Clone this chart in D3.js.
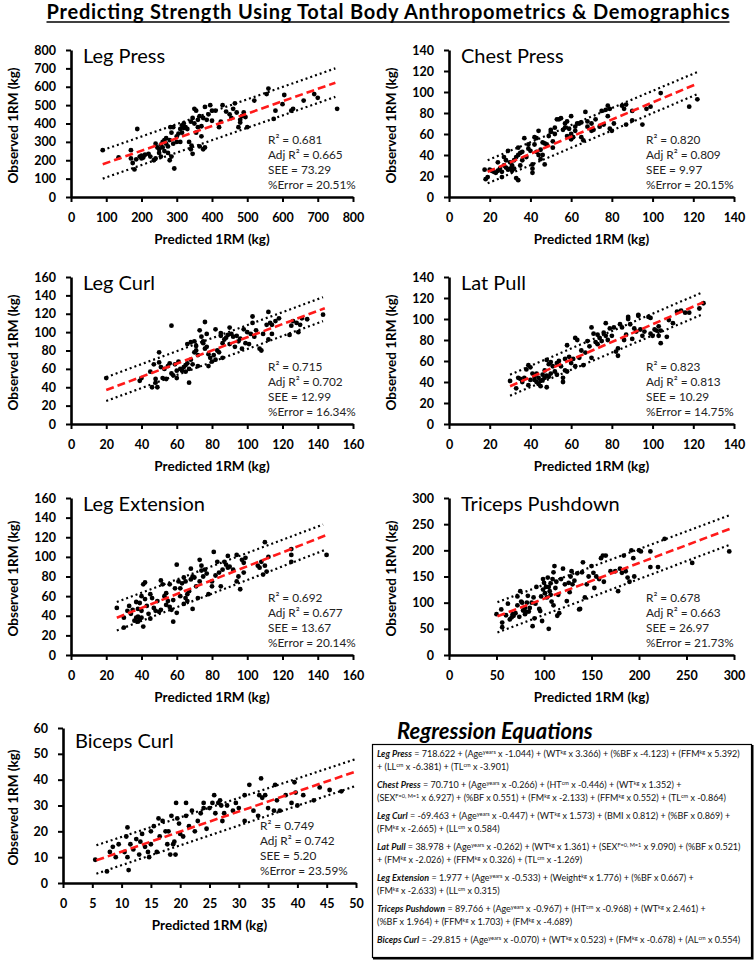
<!DOCTYPE html>
<html><head><meta charset="utf-8">
<script src="https://cdn.jsdelivr.net/npm/d3@7"></script>
<style>
body{margin:0;background:#fff;}
svg{display:block;font-family:Lato,"Noto Sans",sans-serif;}
</style>
</head><body>
<svg id="chart" width="755" height="962"></svg>
<script>
// ---------------- DATA ----------------
const chartTitle = "Predicting Strength Using Total Body Anthropometrics & Demographics";
const panelNames = ["Leg Press","Chest Press","Leg Curl","Lat Pull","Leg Extension","Triceps Pushdown","Biceps Curl"];
const xTicks = [
  [0,100,200,300,400,500,600,700,800],
  [0,20,40,60,80,100,120,140],
  [0,20,40,60,80,100,120,140,160],
  [0,20,40,60,80,100,120,140],
  [0,20,40,60,80,100,120,140,160],
  [0,50,100,150,200,250,300],
  [0,5,10,15,20,25,30,35,40,45,50]
];
const yTicks = [
  [0,100,200,300,400,500,600,700,800],
  [0,20,40,60,80,100,120,140],
  [0,20,40,60,80,100,120,140,160],
  [0,20,40,60,80,100,120,140],
  [0,20,40,60,80,100,120,140,160],
  [0,50,100,150,200,250,300],
  [0,10,20,30,40,50,60]
];
const r2Values = ["0.681","0.820","0.715","0.823","0.692","0.678","0.749"];
const adjR2Values = ["0.665","0.809","0.702","0.813","0.677","0.663","0.742"];
const seeValues = ["73.29","9.97","12.99","10.29","13.67","26.97","5.20"];
const errorValues = ["20.51%","20.15%","16.34%","14.75%","20.14%","21.73%","23.59%"];

const fitLines = [
  [[90,178],[750,622]], [[19,24],[122,108]], [[20,37],[144,126]], [[30,36],[125,116]],
  [[26,38],[146,123]], [[51,74],[297,242]], [[5.7,8.8],[50,43.2]]
];
const upperLines = [
  [[90,255],[750,700]], [[19,35],[122,119]], [[20,51],[143,138]], [[30,47],[124,125]],
  [[26,54],[143,133]], [[51,101],[295,267]], [[5.7,14.6],[50,48]]
];
const lowerLines = [
  [[90,100],[750,545]], [[19,13],[122,98]], [[20,25],[143,112]], [[30,27],[124,104]],
  [[26,25],[144,107]], [[51,43],[296,211]], [[5.7,3.6],[50,37.6]]
];

const legPressPts = [[90,255],[135,215],[170,255],[170,210],[175,185],[180,150],[185,205],[188,370],[195,220],[200,210],[200,225],[205,215],[210,230],[220,235],[225,220],[235,200],[240,290],[240,210],[245,270],[250,260],[250,240],[255,285],[255,220],[260,300],[260,270],[265,310],[265,250],[270,320],[270,290],[275,275],[275,240],[280,310],[280,200],[282,380],[285,350],[285,220],[290,380],[290,290],[293,155],[300,330],[300,300],[305,345],[310,370],[310,300],[315,390],[315,350],[320,400],[320,375],[325,380],[330,370],[335,300],[340,260],[340,410],[342,280],[345,235],[345,430],[350,480],[350,400],[355,470],[355,350],[360,420],[360,380],[365,275],[365,440],[370,385],[370,330],[375,260],[375,430],[380,270],[380,490],[385,420],[390,450],[395,500],[400,415],[400,470],[410,470],[420,380],[425,410],[430,500],[440,465],[450,450],[455,430],[460,480],[465,510],[470,460],[475,380],[480,420],[480,405],[485,440],[490,460],[495,435],[500,380],[520,525],[555,560],[560,590],[575,425],[580,470],[600,505],[605,555],[625,470],[630,480],[660,525],[690,560],[700,540],[755,480]];

const chestPressPts = [[17.5,26],[18,17],[19,19],[20,26],[21,25],[22,24],[23,23],[24,25],[24,33],[25,27],[26,24],[26,19],[27,30],[27,38],[28,28],[28,35],[29,26],[29,44],[30,27],[30,33],[31,30],[31,25],[32,27],[32,35],[33,38],[33,18],[34,16],[34,40],[34,47],[35,42],[35,30],[36,43],[36,35],[37,56],[38,38],[39,50],[39,46],[40,44],[41,31],[41,27],[41,23],[42,50],[42,57],[43,56],[43,43],[44,63],[44,40],[45,45],[45,36],[46,40],[46,52],[47,51],[47,31],[48,50],[49,58],[50,64],[50,62],[51,53],[51,47],[52,66],[52,60],[53,74],[54,74],[55,75],[56,64],[57,66],[57,70],[58,72],[58,58],[59,65],[60,77],[60,60],[60,55],[61,57],[62,63],[62,67],[63,70],[64,70],[65,57],[65,71],[66,54],[67,81],[68,72],[68,67],[70,63],[70,70],[71,64],[72,74],[74,67],[75,82],[76,69],[77,83],[78,87],[78,77],[79,65],[79,84],[80,63],[81,70],[85,87],[86,84],[87,88],[87,69],[90,82],[90,73],[95,69],[97,84],[99,86],[104,99],[118,86],[122,93]];

const legCurlPts = [[20,50],[39,47],[40,50],[45,57],[46,40],[47,65],[48,49],[48,45],[49,40],[50,67],[50,78],[51,62],[52,50],[53,60],[54,49],[55,63],[56,66],[57,55],[57,107],[58,53],[59,65],[60,50],[60,58],[61,68],[62,60],[63,58],[64,62],[65,57],[65,64],[66,87],[66,66],[67,45],[67,60],[68,89],[68,70],[69,65],[70,78],[70,90],[71,80],[71,85],[72,63],[72,75],[73,102],[74,95],[75,88],[75,90],[76,111],[76,82],[77,84],[77,98],[78,76],[78,63],[79,72],[80,68],[81,75],[82,103],[82,70],[83,80],[84,78],[85,96],[85,99],[86,72],[86,88],[87,92],[88,94],[89,97],[90,105],[90,87],[91,98],[92,95],[93,84],[94,96],[95,90],[96,93],[97,82],[98,103],[99,88],[100,100],[101,87],[102,98],[103,117],[103,110],[104,95],[105,102],[107,82],[108,80],[109,98],[111,108],[112,122],[112,92],[113,110],[114,98],[114,108],[116,112],[118,115],[124,97],[125,107],[126,112],[128,110],[129,100],[130,108],[131,115],[134,114],[143,119]];

const latPullPts = [[30,41],[33,34],[34,44],[35,43],[36,40],[37,44],[38,52],[39,37],[39,56],[40,54],[40,42],[41,48],[42,42],[42,45],[43,40],[43,48],[44,44],[44,38],[45,41],[45,36],[46,47],[46,42],[47,44],[47,51],[48,35],[48,46],[48,61],[49,57],[49,45],[50,48],[50,59],[51,55],[52,50],[53,58],[53,47],[54,60],[55,55],[56,44],[56,40],[57,62],[57,51],[58,75],[58,50],[59,64],[60,58],[61,62],[62,82],[62,55],[63,80],[64,63],[65,70],[66,56],[67,68],[68,79],[69,74],[70,63],[70,92],[71,86],[72,78],[73,85],[73,76],[74,82],[75,79],[76,87],[77,96],[77,84],[78,80],[79,91],[80,84],[81,92],[82,69],[83,72],[83,65],[84,95],[85,92],[86,80],[87,85],[88,100],[88,102],[89,95],[90,81],[91,91],[92,88],[93,104],[93,103],[94,90],[95,84],[96,88],[98,102],[99,86],[99,101],[100,84],[101,90],[102,89],[103,93],[103,84],[104,77],[104,89],[107,83],[108,99],[110,96],[112,107],[114,108],[116,106],[118,106],[123,110],[125,115]];

const legExtPts = [[26,48],[30,28],[30,38],[32,45],[33,50],[34,42],[35,46],[36,35],[37,38],[37,54],[38,34],[38,39],[38,47],[39,36],[39,53],[40,60],[40,45],[40,38],[41,29],[41,72],[42,57],[42,74],[43,50],[44,42],[45,62],[45,37],[46,58],[47,48],[48,45],[49,55],[50,44],[51,76],[51,46],[52,72],[53,60],[54,63],[54,51],[55,55],[56,49],[56,72],[57,46],[58,34],[58,56],[59,68],[60,92],[60,43],[61,75],[62,60],[62,68],[63,73],[64,52],[64,79],[65,75],[65,58],[66,62],[66,55],[67,65],[68,88],[68,77],[69,47],[69,80],[70,79],[71,70],[72,58],[73,75],[73,97],[74,91],[74,86],[75,80],[76,87],[77,83],[78,62],[80,75],[80,70],[81,105],[82,81],[83,95],[84,84],[85,70],[86,87],[87,95],[88,92],[89,101],[89,89],[90,90],[92,87],[94,102],[94,75],[95,80],[96,67],[97,97],[98,94],[98,84],[99,99],[106,91],[107,89],[108,95],[109,82],[110,115],[110,91],[111,85],[112,100],[125,108],[125,102],[125,95],[145,102]];

const tricepsPts = [[50,78],[55,87],[56,62],[56,53],[60,76],[62,98],[64,68],[66,72],[67,78],[68,75],[70,80],[72,95],[72,112],[74,73],[75,122],[76,102],[77,100],[78,85],[80,78],[80,90],[81,82],[82,100],[83,113],[84,83],[85,90],[87,100],[88,55],[89,110],[90,70],[91,98],[92,130],[95,88],[96,84],[97,112],[98,65],[99,145],[99,125],[100,138],[101,118],[102,130],[103,110],[104,148],[105,50],[105,130],[106,122],[107,115],[107,137],[108,102],[109,145],[110,158],[110,95],[111,170],[112,128],[113,140],[114,75],[115,115],[116,80],[118,145],[120,165],[122,135],[124,103],[126,138],[127,120],[128,150],[129,160],[130,135],[132,142],[135,156],[137,87],[138,88],[140,158],[141,177],[143,110],[145,135],[147,150],[150,170],[152,157],[153,128],[155,150],[158,145],[160,185],[162,190],[163,140],[165,190],[170,160],[175,160],[178,122],[180,165],[182,157],[184,190],[186,160],[188,148],[190,140],[192,200],[194,185],[195,150],[200,200],[202,198],[212,198],[212,168],[220,168],[227,222],[256,176],[295,198]];

const bicepsPts = [[5.5,9],[7.5,4.5],[8,12],[8.5,14],[9,10],[9.5,15],[10.5,12],[10.8,18],[11,21.5],[11,10],[11.2,5],[11.5,15],[12,13],[12.5,17],[13,11],[13.2,16],[13.5,19],[14,14],[14.5,12],[14.7,10],[15,20],[15,15],[15.5,22],[16,12],[16.3,25],[16.5,18],[17,24],[17.5,20],[17.8,15],[18,20],[18.3,11],[18.5,26],[18.8,15],[19,16],[19.2,11],[19.3,31],[19.5,25],[19.8,23],[20,19],[20.5,18],[21,31],[21,26],[21.5,22],[22,28],[22.5,20],[23,24],[23.5,27],[24,31],[24,29],[24.5,21],[25,29],[25.5,31],[25.8,34],[26,27],[26.5,31],[26.8,32],[27,30],[27.2,24],[27.5,27],[28,30],[29,28],[29.5,31],[30,29],[31,34],[31,24],[31.8,38],[32.5,28],[33.3,26],[33.5,34],[33.8,40.5],[34,33],[34.5,34],[35,29],[36,28],[36.2,38],[36.5,32],[37,28],[38,34],[39,31],[39.5,39],[39.7,35],[40,30],[41,34],[42.8,32],[43.8,37],[45.5,36],[47.5,35.5]];

const panelPoints = [legPressPts, chestPressPts, legCurlPts, latPullPts, legExtPts, tricepsPts, bicepsPts];

const eqHeading = "Regression Equations";
const eqNames = ["Leg Press","Chest Press","Leg Curl","Lat Pull","Leg Extension","Triceps Pushdown","Biceps Curl"];
const eqLine1 = [
  " = 718.622 + (Age^{years} x -1.044) + (WT^{kg} x 3.366) + (%BF x -4.123) + (FFM^{kg} x 5.392)",
  " = 70.710 + (Age^{years} x -0.266) + (HT^{cm} x -0.446) + (WT^{kg} x 1.352) +",
  " = -69.463 + (Age^{years} x -0.447) + (WT^{kg} x 1.573) + (BMI x 0.812) + (%BF x 0.869) +",
  " = 38.978 + (Age^{years} x -0.262) + (WT^{kg} x 1.361) + (SEX^{F=0, M=1} x 9.090) + (%BF x 0.521)",
  " = 1.977 + (Age^{years} x -0.533) + (Weight^{kg} x 1.776) + (%BF x 0.667) +",
  " = 89.766 + (Age^{years} x -0.967) + (HT^{cm} x -0.968) + (WT^{kg} x 2.461) +",
  " = -29.815 + (Age^{years} x -0.070) + (WT^{kg} x 0.523) + (FM^{kg} x -0.678) + (AL^{cm} x 0.554)"
];
const eqLine2 = [
  "+ (LL^{cm} x -6.381) + (TL^{cm} x -3.901)",
  "(SEX^{F=0, M=1} x 6.927) + (%BF x 0.551) + (FM^{kg} x -2.133) + (FFM^{kg} x 0.552) + (TL^{cm} x -0.864)",
  "(FM^{kg} x -2.665) + (LL^{cm} x 0.584)",
  "+ (FM^{kg} x -2.026) + (FFM^{kg} x 0.326) + (TL^{cm} x -1.269)",
  "(FM^{kg} x -2.633) + (LL^{cm} x 0.315)",
  "(%BF x 1.964) + (FFM^{kg} x 1.703) + (FM^{kg} x -4.689)",
  ""
];

// ---------------- LAYOUT ----------------
const svg = d3.select("#chart");
const boxes = [
  {x0:71, x1:353, y0:50,  y1:197, titleDy:13, yt:13},
  {x0:449,x1:734, y0:50,  y1:197, titleDy:13, yt:391},
  {x0:71, x1:353, y0:277, y1:424, titleDy:13, yt:13},
  {x0:449,x1:734, y0:277, y1:424, titleDy:13, yt:391},
  {x0:71, x1:353, y0:498, y1:655, titleDy:13, yt:13},
  {x0:449,x1:734, y0:498, y1:655, titleDy:13, yt:391},
  {x0:63, x1:356, y0:728, y1:883, titleDy:20, yt:13}
];

// Title
svg.append("text").attr("x",388).attr("y",19).attr("text-anchor","middle")
  .attr("font-size",20).attr("font-weight",700)
  .attr("textLength",683).attr("lengthAdjust","spacing").text(chartTitle);
svg.append("line").attr("x1",388-341.5).attr("x2",388+341.5).attr("y1",22).attr("y2",22)
  .attr("stroke","#000").attr("stroke-width",1.6);

panelNames.forEach((name,i)=>{
  const b = boxes[i];
  const xt = xTicks[i], yt = yTicks[i];
  const x = d3.scaleLinear().domain([0, d3.max(xt)]).range([b.x0, b.x1]);
  const y = d3.scaleLinear().domain([0, d3.max(yt)]).range([b.y1, b.y0]);
  const g = svg.append("g");

  const xa = g.append("g").attr("transform",`translate(0,${b.y1})`)
    .call(d3.axisBottom(x).tickValues(xt).tickSize(5).tickSizeOuter(0).tickPadding(11));
  const ya = g.append("g").attr("transform",`translate(${b.x0},0)`)
    .call(d3.axisLeft(y).tickValues(yt).tickSize(5).tickSizeOuter(0).tickPadding(10));
  [xa,ya].forEach(a=>{
    a.select(".domain").attr("stroke","#000").attr("stroke-width",2.6);
    a.selectAll(".tick line").attr("stroke","#000").attr("stroke-width",2);
    a.selectAll(".tick text").attr("font-family","Lato").attr("font-size",12.5)
      .attr("font-weight",700).attr("fill","#000");
  });

  // axis titles
  g.append("text").attr("x",(b.x0+b.x1)/2).attr("y",b.y1+47).attr("text-anchor","middle")
    .attr("font-size",13.5).attr("font-weight",700).text("Predicted 1RM (kg)");
  const yc = (b.y0+b.y1)/2 + 2;
  g.append("text").attr("transform",`translate(${b.yt},${yc}) rotate(-90)`).attr("text-anchor","middle")
    .attr("dy","0.35em").attr("font-size",13.5).attr("font-weight",700).text("Observed 1RM (kg)");

  // panel title
  g.append("text").attr("x",b.x0+12).attr("y",b.y0+b.titleDy).attr("font-size",20).text(name);

  // points
  g.append("g").selectAll("circle").data(panelPoints[i]).join("circle")
    .attr("cx",d=>x(d[0])).attr("cy",d=>y(d[1])).attr("r",2.4).attr("fill","#000");

  const line = d3.line().x(d=>x(d[0])).y(d=>y(d[1]));
  [upperLines[i], lowerLines[i]].forEach(l=>{
    g.append("path").attr("d",line(l)).attr("fill","none").attr("stroke","#000")
      .attr("stroke-width",2.2).attr("stroke-dasharray","2 3");
  });
  g.append("path").attr("d",line(fitLines[i])).attr("fill","none").attr("stroke","#ff1a1a")
    .attr("stroke-width",2.6).attr("stroke-dasharray","8 4");

  // stats
  const sx = b.x0 + 197;
  const stats = [`R² = ${r2Values[i]}`, `Adj R² = ${adjR2Values[i]}`, `SEE = ${seeValues[i]}`, `%Error = ${errorValues[i]}`];
  stats.forEach((s,k)=>{
    g.append("text").attr("x",sx).attr("y",b.y1-53.5+k*15).attr("font-size",11.8).attr("fill","#222").text(s);
  });
});

// ---------------- EQUATIONS BOX ----------------
svg.append("text").attr("x",397).attr("y",739).attr("font-size",22).attr("font-weight",700)
  .attr("font-style","italic").text(eqHeading);
svg.append("rect").attr("x",372.5).attr("y",744.5).attr("width",379).attr("height",213)
  .attr("fill","#fff").attr("stroke","#000").attr("stroke-width",1.2);
svg.append("path").attr("d","M752.5,745 V958.5 H373").attr("fill","none")
  .attr("stroke","#000").attr("stroke-width",2);

const eqSize = 9.0;
function richText(xp, yp, str, boldPrefix){
  const t = svg.append("text").attr("x",xp).attr("y",yp).attr("font-size",eqSize).attr("fill","#111");
  if(boldPrefix){
    t.append("tspan").attr("font-weight",700).attr("font-style","italic").text(boldPrefix);
  }
  const parts = str.split(/(\^\{[^}]*\})/);
  let shifted = false;
  parts.forEach(p=>{
    if(!p) return;
    if(p.startsWith("^{")){
      t.append("tspan").attr("font-size",eqSize*0.62).attr("dy",-eqSize*0.32).text(p.slice(2,-1));
      shifted = true;
    } else {
      const ts = t.append("tspan").text(p.replace(/ /g,"\u00a0"));
      if(shifted){ ts.attr("dy",eqSize*0.32); shifted=false; }
    }
  });
}
eqNames.forEach((n,i)=>{
  const yb = 757 + i*31;
  richText(377, yb, eqLine1[i], n);
  if(eqLine2[i]) richText(377, yb+12.5, eqLine2[i], null);
});
</script>
</body></html>
